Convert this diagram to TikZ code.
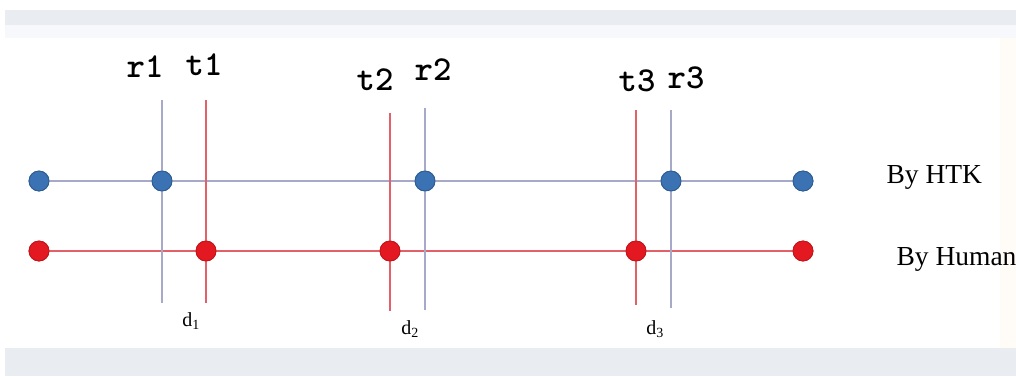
\documentclass[tikz,border=0pt]{standalone}
\usepackage{fontspec}
\setmainfont{Liberation Serif}
\usepackage{tikz}
\definecolor{htkdot}{RGB}{58,114,180}
\definecolor{humdot}{RGB}{228,24,32}
\definecolor{htkline}{RGB}{166,170,200}
\definecolor{humline}{RGB}{228,96,104}
\definecolor{bandgray}{RGB}{233,237,242}
\definecolor{bandlight}{RGB}{246,248,251}

\begin{document}
\begin{tikzpicture}[x=1pt, y=-1pt,
  dot/.style={circle, inner sep=0, minimum size=20pt, line width=0.8pt},
  htk/.style={dot, fill=htkdot, draw=htkdot!80!black},
  hum/.style={dot, fill=humdot, draw=humdot!85!black},
  hline/.style={line width=1.6pt},
  vline/.style={line width=1.6pt},
  mark lbl/.style={font=\fontsize{35}{35}\selectfont\ttfamily\bfseries, anchor=base},
  dlbl/.style={font=\fontsize{20}{20}\selectfont, anchor=base},
  legend/.style={font=\fontsize{27.5}{28}\selectfont, anchor=base west},
]
\useasboundingbox (0,0) rectangle (1016,376);
% ---- background bands
\fill[bandgray] (5,10) rectangle (1016,25);
\fill[bandlight] (5,25) rectangle (1016,38);
\fill[bandgray] (5,348) rectangle (1016,376);
\fill[orange!3] (1000,38) rectangle (1016,348);
% ---- points: HTK above, human below
\foreach \x [count=\i] in {39,162,425,671,803} {
  \node[htk] (b\i) at (\x,181) {};
}
\foreach \x [count=\i] in {39,206,390,636,803} {
  \node[hum] (h\i) at (\x,251) {};
}
\draw[hline, htkline, line width=1.2pt] (b1) -- (b2) -- (b3) -- (b4) -- (b5);
\draw[hline, humline] (h1) -- (h2) -- (h3) -- (h4) -- (h5);
% ---- boundary markers
\foreach \n/\x/\yt/\yb/\p in {r1/162/100/303/b2, r2/425/108/310/b3, r3/671/110/308/b4} {
  \coordinate (\n top) at (\x,\yt);
  \coordinate (\n bot) at (\x,\yb);
  \draw[vline, htkline] (\n top) -- (\p) -- (\n bot);
}
\foreach \n/\x/\yt/\yb/\p in {t1/206/100/303/h2, t2/390/113/311/h3, t3/636/110/305/h4} {
  \coordinate (\n top) at (\x,\yt);
  \coordinate (\n bot) at (\x,\yb);
  \draw[vline, humline] (\n top) -- (\p) -- (\n bot);
}
% redraw points so the crossing lines stay behind them
\foreach \x [count=\i] in {39,162,425,671,803} {
  \node[htk] at (b\i) {};
}
\foreach \x [count=\i] in {39,206,390,636,803} {
  \node[hum] at (h\i) {};
}
\node[mark lbl] (r1) at (145,77) {r1};
\node[mark lbl] (t1) at (204,75) {t1};
\node[mark lbl] (t2) at (375,90) {t2};
\node[mark lbl] (r2) at (433,80) {r2};
\node[mark lbl] (t3) at (637,91) {t3};
\node[mark lbl] (r3) at (686,88) {r3};
\node[dlbl] (d1) at (191,326) {d\textsubscript{1}};
\node[dlbl] (d2) at (410,334) {d\textsubscript{2}};
\node[dlbl] (d3) at (655,334) {d\textsubscript{3}};
\node[legend] (lhtk) at (883,183) {By HTK};
\node[legend] (lhum) at (893,265) {By Human};
\end{tikzpicture}
\end{document}
